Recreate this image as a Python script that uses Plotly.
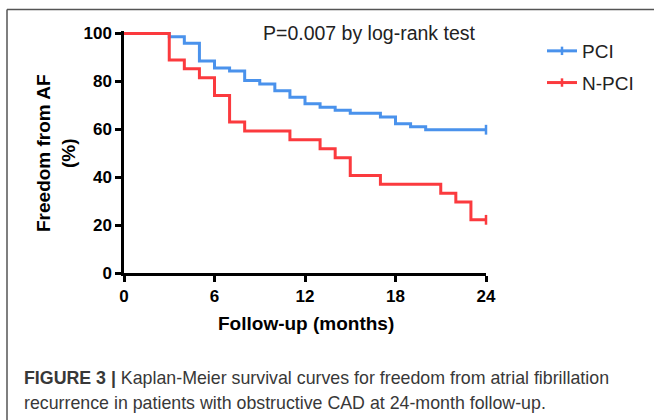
import plotly.graph_objects as go

# ---- data ----
pci_months = [0, 3, 4, 5, 6, 7, 8, 9, 10, 11, 12, 13, 14, 15, 17, 18, 19, 20, 24]
pci_surv = [100, 98.6, 95.9, 88.5, 85.6, 84.3, 80.3, 78.9, 76.1, 73.3, 70.6, 69.2, 67.9, 66.7, 65.1, 62.3, 61.0, 59.8, 59.8]

npci_months = [0, 3, 4, 5, 6, 7, 8, 11, 13, 14, 15, 17, 21, 22, 23, 24]
npci_surv = [100, 88.9, 85.2, 81.5, 74.1, 63.0, 59.3, 55.6, 51.9, 48.1, 40.7, 37.0, 33.3, 29.6, 22.2, 22.2]

pci_censor_months = [24]
pci_censor_surv = [59.8]
npci_censor_months = [24]
npci_censor_surv = [22.2]

x_ticks = [0, 6, 12, 18, 24]
y_ticks = [0, 20, 40, 60, 80, 100]

series_names = ["PCI", "N-PCI"]
BLUE = "#4A92EC"
RED = "#FB3A3E"

W, H = 654, 420
ML, MR, MT, MB = 124, 168, 31, 147
PW, PH = W - ML - MR, H - MT - MB


def px_x(px):
    return (px - ML) / PW


def px_y(py):
    return (H - MB - py) / PH


fig = go.Figure()

for name, xs, ys, cx, cy, col in [
    (series_names[0], pci_months, pci_surv, pci_censor_months, pci_censor_surv, BLUE),
    (series_names[1], npci_months, npci_surv, npci_censor_months, npci_censor_surv, RED),
]:
    fig.add_trace(go.Scatter(x=xs, y=ys, mode="lines", line=dict(color=col, width=3, shape="hv"),
                             legendgroup=name, showlegend=False, hoverinfo="skip"))
    fig.add_trace(go.Scatter(x=cx, y=cy, mode="markers", cliponaxis=False,
                             marker=dict(symbol="line-ns", size=7, line=dict(color=col, width=2.5)),
                             legendgroup=name, showlegend=False, hoverinfo="skip"))
    # legend entry (line with censor tick)
    fig.add_trace(go.Scatter(x=[None], y=[None], mode="lines+markers", name=name,
                             line=dict(color=col, width=3),
                             marker=dict(symbol="line-ns", size=6, line=dict(color=col, width=2.5)),
                             legendgroup=name, showlegend=True))

axis_common = dict(
    showline=True, linecolor="black", linewidth=2.5, mirror=False,
    ticks="outside", ticklen=6, tickwidth=2.5, tickcolor="black",
    showgrid=False, zeroline=False,
    tickfont=dict(family="Liberation Sans", size=17, color="black", weight="bold"),
)

fig.update_layout(
    width=W, height=H,
    margin=dict(l=ML, r=MR, t=MT, b=MB),
    paper_bgcolor="white", plot_bgcolor="white",
    xaxis=dict(range=[0, 24], tickvals=x_ticks, **axis_common),
    yaxis=dict(range=[0, 101], tickvals=y_ticks, **axis_common),
    legend=dict(x=px_x(542), y=px_y(32), xanchor="left", yanchor="top",
                font=dict(family="Liberation Sans", size=19, color="#222"),
                tracegroupgap=4, bgcolor="rgba(0,0,0,0)"),
    showlegend=True,
)

# axis titles
fig.add_annotation(text="Follow-up (months)", xref="paper", yref="paper",
                   x=px_x(306), y=px_y(323), showarrow=False, xanchor="center", yanchor="middle",
                   font=dict(family="Liberation Sans", size=19, color="black", weight="bold"))
fig.add_annotation(text="Freedom from AF<br>(%)", xref="paper", yref="paper", textangle=-90,
                   x=px_x(56), y=px_y(153), showarrow=False, xanchor="center", yanchor="middle",
                   font=dict(family="Liberation Sans", size=19, color="black", weight="bold"))

# p-value
fig.add_annotation(text="P=0.007 by log-rank test", xref="paper", yref="paper",
                   x=px_x(369), y=px_y(33), showarrow=False, xanchor="center", yanchor="middle",
                   font=dict(family="Liberation Sans", size=19.5, color="#222"))

# caption
fig.add_annotation(text="<b>FIGURE 3 |</b> Kaplan-Meier survival curves for freedom from atrial fibrillation",
                   xref="paper", yref="paper", x=px_x(22), y=px_y(378), showarrow=False,
                   xanchor="left", yanchor="middle",
                   font=dict(family="Liberation Sans", size=17.8, color="#383838"))
fig.add_annotation(text="recurrence in patients with obstructive CAD at 24-month follow-up.",
                   xref="paper", yref="paper", x=px_x(22), y=px_y(403), showarrow=False,
                   xanchor="left", yanchor="middle",
                   font=dict(family="Liberation Sans", size=17.8, color="#383838"))

# frame (left and top border)
fig.add_shape(type="line", xref="paper", yref="paper",
              x0=px_x(7), y0=px_y(420), x1=px_x(7), y1=px_y(9.5),
              line=dict(color="#555", width=1.5))
fig.add_shape(type="line", xref="paper", yref="paper",
              x0=px_x(7), y0=px_y(9.5), x1=px_x(654), y1=px_y(9.5),
              line=dict(color="#555", width=1.5))

fig.write_html("out.html", config={"displayModeBar": False},
               post_script="document.body.style.margin='0';")
